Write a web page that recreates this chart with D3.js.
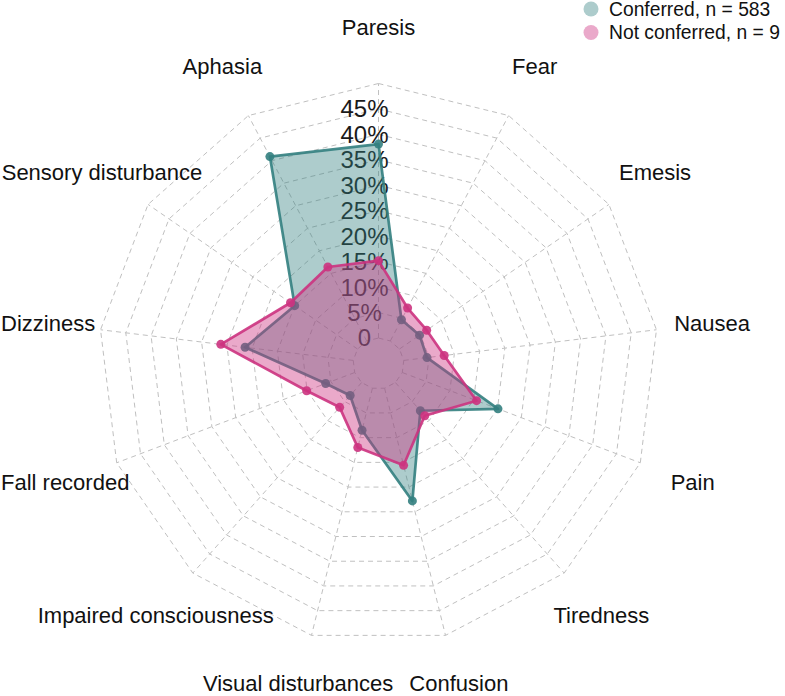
<!DOCTYPE html>
<html>
<head>
<meta charset="utf-8">
<script src="https://cdn.jsdelivr.net/npm/d3@7"></script>
<style>
  html, body { margin: 0; padding: 0; background: #ffffff; }
  svg { display: block; font-family: "Liberation Sans", Arial, Helvetica, sans-serif; }
</style>
</head>
<body>
<svg id="chart" width="785" height="696"></svg>
<script>
// ---- data (clockwise from top) ----
const categories = ["Paresis", "Fear", "Emesis", "Nausea", "Pain", "Tiredness", "Confusion",
  "Visual disturbances", "Impaired consciousness", "Fall recorded", "Dizziness",
  "Sensory disturbance", "Aphasia"];
const conferred    = [38.1, 4.7, 4.8, 4.6, 20.1, 7.4, 22.8, 8.5, 3.4, 6.1, 21.4, 15.0, 40.9];
const notConferred = [15.2, 7.3, 6.5, 8.0, 15.6, 8.7, 15.6, 12.0, 6.5, 10.1, 26.2, 16.0, 16.4];
const seriesNames  = ["Conferred, n = 583", "Not conferred, n = 9"];
const tickValues   = [0, 5, 10, 15, 20, 25, 30, 35, 40, 45];
const tickLabels   = ["0", "5%", "10%", "15%", "20%", "25%", "30%", "35%", "40%", "45%"];
const gridValues   = [0, 5, 10, 15, 20, 25, 30, 35, 40, 45, 50];

// ---- layout ----
const svg = d3.select("#chart");
const W = 785, H = 696;
const cx = 378.5, cy = 363.5, R = 280;
const rScale = d3.scaleLinear().domain([0, 50]).range([R / 11, R]);
const n = categories.length;
const angle = d3.scaleLinear().domain([0, n]).range([0, 2 * Math.PI]);

const g = svg.append("g").attr("transform", `translate(${cx},${cy})`);

const gridColor = "#c0c0c0";
// rings
gridValues.forEach(v => {
  const pts = categories.map((c, i) => d3.pointRadial(angle(i), rScale(v)));
  g.append("polygon")
    .attr("points", pts.map(p => p.join(",")).join(" "))
    .attr("fill", "none")
    .attr("stroke", gridColor)
    .attr("stroke-width", 1)
    .attr("stroke-dasharray", "5,4");
});
// radial axes
categories.forEach((c, i) => {
  const p0 = d3.pointRadial(angle(i), rScale(0));
  const p1 = d3.pointRadial(angle(i), rScale(50));
  g.append("line")
    .attr("x1", p0[0]).attr("y1", p0[1]).attr("x2", p1[0]).attr("y2", p1[1])
    .attr("stroke", gridColor).attr("stroke-width", 1).attr("stroke-dasharray", "5,4");
});

// axis (value) labels
g.selectAll("text.tick").data(tickValues).enter().append("text")
  .attr("class", "tick")
  .attr("x", -0.05 * R)
  .attr("y", d => -rScale(d))
  .attr("dy", "0.35em")
  .attr("text-anchor", "middle")
  .attr("font-size", 24)
  .attr("fill", "#1a1a1a")
  .text((d, i) => tickLabels[i]);

// category labels
const cats = g.selectAll("text.cat").data(categories).enter().append("text")
  .attr("class", "cat")
  .attr("x", (d, i) => d3.pointRadial(angle(i), R * 1.2)[0])
  .attr("y", (d, i) => d3.pointRadial(angle(i), R * 1.2)[1])
  .attr("dy", "0.35em")
  .attr("text-anchor", "middle")
  .attr("font-size", 22)
  .attr("fill", "#111")
  .text(d => d);
// keep labels inside the canvas
cats.each(function() {
  const b = this.getBBox();
  let x = +this.getAttribute("x"), y = +this.getAttribute("y");
  const left = cx + b.x, right = cx + b.x + b.width, bottom = cy + b.y + b.height;
  if (left < 1) x += 1 - left;
  if (right > W - 1) x -= right - (W - 1);
  if (bottom > H) y -= bottom - H;
  this.setAttribute("x", x); this.setAttribute("y", y);
});

// series
const series = [
  { name: seriesNames[0], values: conferred, stroke: "rgba(51,128,128,0.9)", fill: "rgba(51,128,128,0.4)" },
  { name: seriesNames[1], values: notConferred, stroke: "rgba(204,51,128,0.9)", fill: "rgba(204,51,128,0.42)" }
];
const radial = d3.lineRadial()
  .angle((d, i) => angle(i))
  .radius(d => rScale(d))
  .curve(d3.curveLinearClosed);

series.forEach(s => {
  g.append("path")
    .attr("d", radial(s.values))
    .attr("fill", s.fill)
    .attr("stroke", s.stroke)
    .attr("stroke-width", 2.7)
    .attr("stroke-linejoin", "round");
  g.selectAll(null).data(s.values).enter().append("circle")
    .attr("cx", (d, i) => d3.pointRadial(angle(i), rScale(d))[0])
    .attr("cy", (d, i) => d3.pointRadial(angle(i), rScale(d))[1])
    .attr("r", 4.5)
    .attr("fill", s.stroke);
});

// legend
const legend = svg.append("g").attr("transform", "translate(591,9)");
series.forEach((s, i) => {
  legend.append("circle").attr("cx", 0).attr("cy", i * 23.5).attr("r", 7.5)
    .attr("fill", s.fill);
  legend.append("text").attr("x", 18).attr("y", i * 23.5).attr("dy", "0.35em")
    .attr("font-size", 19.3).attr("fill", "#111").text(s.name);
});
</script>
</body>
</html>
